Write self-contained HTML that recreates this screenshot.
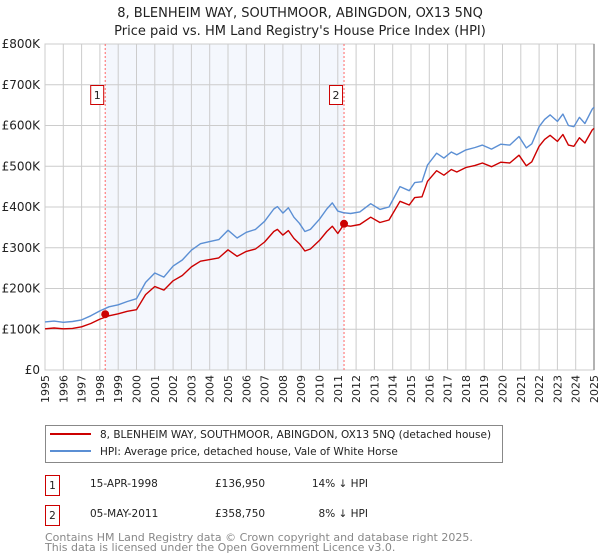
<!DOCTYPE html>
<html><head><meta charset="utf-8"><style>
body{margin:0;background:#fff;font-family:"DejaVu Sans","Liberation Sans",sans-serif;}
svg{display:block}
</style></head><body>
<svg id="c" width="600" height="560" xmlns="http://www.w3.org/2000/svg" font-family="DejaVu Sans, Liberation Sans, sans-serif">
<text x="300" y="17" text-anchor="middle" font-size="13" fill="#222">8, BLENHEIM WAY, SOUTHMOOR, ABINGDON, OX13 5NQ</text>
<text x="300" y="35" text-anchor="middle" font-size="13" fill="#222">Price paid vs. HM Land Registry's House Price Index (HPI)</text>
<g id="plot"></g>
<rect x="45.5" y="425.5" width="457" height="37" fill="#fff" stroke="#888"/>
<line x1="50" y1="434" x2="91" y2="434" stroke="#cc0000" stroke-width="2"/>
<text x="100" y="438" font-size="10.5" fill="#222">8, BLENHEIM WAY, SOUTHMOOR, ABINGDON, OX13 5NQ (detached house)</text>
<line x1="50" y1="451" x2="91" y2="451" stroke="#5b8fd4" stroke-width="2"/>
<text x="100" y="455" font-size="10.5" fill="#222">HPI: Average price, detached house, Vale of White Horse</text>
<g>
<rect x="45.5" y="475.5" width="14" height="20" fill="#fff" stroke="#cc0000"/>
<text x="52.5" y="489" text-anchor="middle" font-size="10.5" fill="#222">1</text>
<text x="90" y="487" font-size="10.5" fill="#222">15-APR-1998</text>
<text x="215" y="487" font-size="10.5" fill="#222">£136,950</text>
<text x="368" y="487" text-anchor="end" font-size="10.5" fill="#222">14% ↓ HPI</text>
</g>
<g>
<rect x="45.5" y="505.5" width="14" height="20" fill="#fff" stroke="#cc0000"/>
<text x="52.5" y="519" text-anchor="middle" font-size="10.5" fill="#222">2</text>
<text x="90" y="517" font-size="10.5" fill="#222">05-MAY-2011</text>
<text x="215" y="517" font-size="10.5" fill="#222">£358,750</text>
<text x="368" y="517" text-anchor="end" font-size="10.5" fill="#222">8% ↓ HPI</text>
</g>
<text x="45" y="541" font-size="11" fill="#888">Contains HM Land Registry data © Crown copyright and database right 2025.</text>
<text x="45" y="551" font-size="11" fill="#888">This data is licensed under the Open Government Licence v3.0.</text>
</svg>
<script>
const dates=[1995,1995.5,1996,1996.5,1997,1997.5,1998,1998.5,1999,1999.5,2000,2000.5,2001,2001.5,2002,2002.5,2003,2003.5,2004,2004.5,2005,2005.5,2006,2006.5,2007,2007.5,2007.7,2008,2008.3,2008.6,2008.9,2009.2,2009.5,2010,2010.4,2010.7,2011,2011.3,2011.7,2012.2,2012.8,2013.3,2013.8,2014.4,2014.9,2015.2,2015.6,2015.9,2016.4,2016.8,2017.2,2017.5,2018,2018.5,2018.9,2019.4,2019.9,2020.4,2020.9,2021.3,2021.6,2022,2022.3,2022.6,2023,2023.3,2023.6,2023.9,2024.2,2024.5,2024.9,2025];
const hpiValues=[118,120,117,119,123,133,145,155,160,168,175,215,238,228,255,270,294,310,315,320,343,324,338,345,365,395,401,385,398,375,360,340,345,370,395,410,390,386,384,388,408,394,400,450,440,460,462,503,532,520,535,528,540,546,552,542,554,552,573,545,555,597,615,626,610,628,600,597,620,605,640,645];
const priceValues=[101,103,101,102,106,114,125,133,138,144,148,185,205,196,219,232,253,267,271,275,295,279,291,297,314,340,345,331,342,323,310,292,297,318,340,353,335,355,353,357,375,362,368,414,405,423,425,463,489,478,492,486,497,502,508,499,510,508,527,501,511,549,566,576,561,578,552,549,570,557,589,593];
const yTicks=[0,100,200,300,400,500,600,700,800];
const yTickLabels=["£0","£100K","£200K","£300K","£400K","£500K","£600K","£700K","£800K"];
const xTicks=[1995,1996,1997,1998,1999,2000,2001,2002,2003,2004,2005,2006,2007,2008,2009,2010,2011,2012,2013,2014,2015,2016,2017,2018,2019,2020,2021,2022,2023,2024,2025];
const saleDates=[1998.29,2011.34];
const salePrices=[136.95,358.75];
const saleLabels=["1","2"];

const NS="http://www.w3.org/2000/svg";
const X0=45,X1=594,Y0=370,Y1=44;
const xs=d=>X0+(d-1995)/(2025-1995)*(X1-X0);
const ys=v=>Y0-v/800*(Y0-Y1);
const g=document.getElementById('plot');
function mk(t,a){const e=document.createElementNS(NS,t);for(const k in a)e.setAttribute(k,a[k]);g.appendChild(e);return e;}

let bg=mk('rect',{x:X0,y:Y1,width:X1-X0,height:Y0-Y1,fill:'#fff',stroke:'#ccc'});


let band=mk('rect',{x:xs(saleDates[0]),y:Y1,width:xs(saleDates[1])-xs(saleDates[0]),height:Y0-Y1,fill:'#f4f7fd'});


xTicks.forEach(t=>{
  const l=mk('line',{x1:xs(t),x2:xs(t),y1:Y1,y2:Y0,stroke:'#ccc','stroke-width':1});
  
  
  const tx=mk('text',{x:0,y:0,'font-size':11,fill:'#222','text-anchor':'end',transform:`translate(${xs(t)+4},${Y0+5}) rotate(-90)`});
  tx.textContent=String(t);
  
  
});
yTicks.forEach((t,i)=>{
  const l=mk('line',{x1:X0,x2:X1,y1:ys(t),y2:ys(t),stroke:'#ccc','stroke-width':1});
  
  
  const tx=mk('text',{x:X0-5,y:ys(t)+4,'font-size':12,fill:'#222','text-anchor':'end'});
  tx.textContent=yTickLabels[i];
  
  
});
let edge=mk('line',{x1:X1,x2:X1,y1:Y1,y2:Y0,stroke:'#999','stroke-width':1.5});


saleDates.forEach((d,i)=>{
  const l=mk('line',{x1:xs(d),x2:xs(d),y1:Y1,y2:Y0,stroke:'#ff6666','stroke-width':1,'stroke-dasharray':'2,2'});
  
  
});
function path(vals,color,name){
  const d=vals.map((v,i)=>(i?'L':'M')+xs(dates[i]).toFixed(1)+','+ys(v).toFixed(1)).join('');
  const p=mk('path',{d:d,fill:'none',stroke:color,'stroke-width':1.4,'stroke-linejoin':'round'});
  
  
}
path(hpiValues,'#5b8fd4','hpi-line');
path(priceValues,'#cc0000','price-line');
saleDates.forEach((d,i)=>{
  const c=mk('circle',{cx:xs(d),cy:ys(salePrices[i]),r:4,fill:'#cc0000'});
  
  
  const r=mk('rect',{x:xs(d)-14.5,y:85.5,width:13,height:19,fill:'#fff',stroke:'#cc0000'});
  
  
  const t=mk('text',{x:xs(d)-8,y:99,'font-size':11,fill:'#222','text-anchor':'middle'});
  t.textContent=saleLabels[i];
  
  
});
</script>
</body></html>
